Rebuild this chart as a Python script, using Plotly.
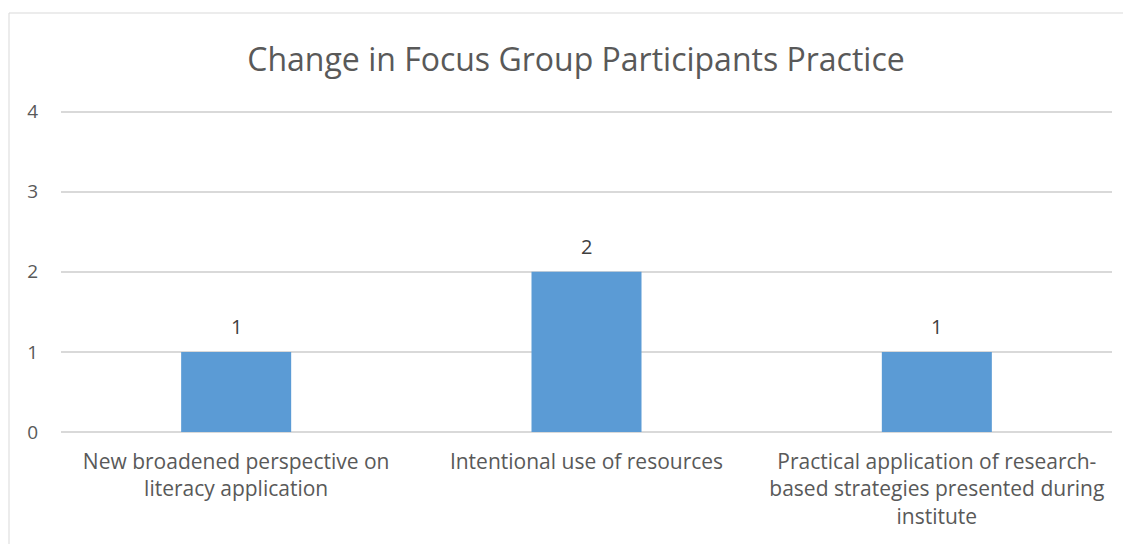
import plotly.graph_objects as go

categories = [
    "New broadened perspective on<br>literacy application",
    "Intentional use of resources",
    "Practical application of research-<br>based strategies presented during<br>institute",
]
values = [1, 2, 1]
y_ticks = [0, 1, 2, 3, 4]
y_max = 4.02

# page has an 8px body margin
OFF = 8
W, H = 1131 - OFF, 544 - OFF
PX_PER_UNIT = 80
L, R, B = 61 - OFF, 19, 112
T = round(H - B - y_max * PX_PER_UNIT)
pw, ph = W - L - R, H - T - B

font_family = "'Open Sans', sans-serif"

fig = go.Figure()
fig.add_trace(go.Bar(
    x=categories, y=values,
    marker=dict(color="#5B9BD5", line=dict(width=0)),
    width=0.314,
    hoverinfo="skip",
))

for c, v in zip(categories, values):
    fig.add_annotation(x=c, y=v, text=str(v), showarrow=False,
                       yanchor="middle", yshift=25,
                       font=dict(family=font_family, size=20, color="#404040"))

# chart border
fig.add_shape(type="rect", xref="paper", yref="paper",
              x0=(9 - OFF - L) / pw, x1=(W + 20 - L) / pw,
              y0=-1, y1=(H - B - (13 - OFF)) / ph,
              line=dict(color="#D9D9D9", width=1), fillcolor="rgba(0,0,0,0)",
              layer="below")

fig.update_layout(
    width=W, height=H,
    margin=dict(l=L, r=R, t=T, b=B, pad=0),
    paper_bgcolor="white", plot_bgcolor="white",
    showlegend=False,
    title=dict(text="Change in Focus Group Participants Practice",
               x=(576 - OFF) / W, xref="container", xanchor="center",
               y=1 - (60 - OFF) / H, yanchor="middle",
               font=dict(family=font_family, size=32, color="#595959")),
    font=dict(family=font_family, size=20, color="#595959"),
)
fig.update_xaxes(showgrid=False, showline=False, ticks="", zeroline=False,
                 tickfont=dict(size=21, color="#595959"),
                 ticklabelstandoff=15)
fig.update_yaxes(range=[0, y_max], tickvals=y_ticks, showgrid=True,
                 gridcolor="#D9D9D9", gridwidth=1.5, zeroline=True,
                 zerolinecolor="#D9D9D9", zerolinewidth=1.5,
                 showline=False, ticks="",
                 tickfont=dict(size=19, color="#595959"),
                 ticklabelstandoff=22)

fig.write_html("out.html")
